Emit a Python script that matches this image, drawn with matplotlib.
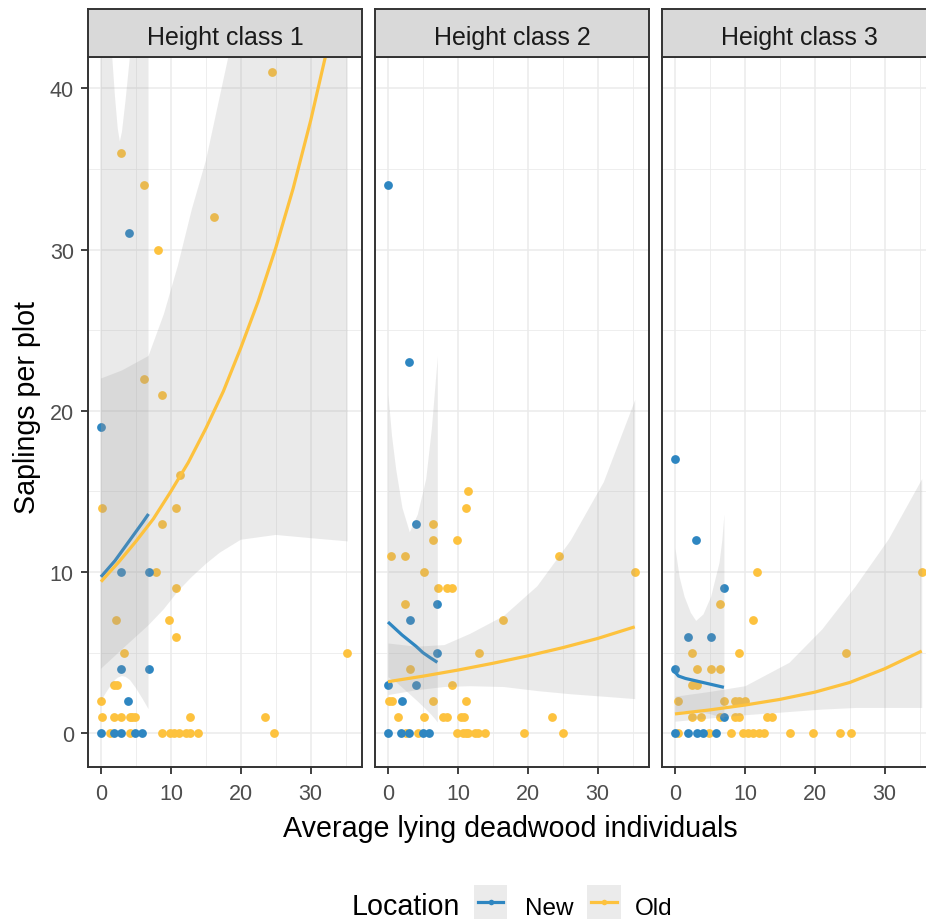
import numpy as np
import matplotlib.pyplot as plt
from matplotlib.patches import Rectangle
from matplotlib.ticker import MultipleLocator

plt.rcParams['font.family'] = ['Liberation Sans', 'DejaVu Sans']

W, H = 926, 920
new_col = '#2E86C1'
old_col = '#FDC23E'

panel_titles = ['Height class 1', 'Height class 2', 'Height class 3']
x_ticks = [0, 10, 20, 30]
y_ticks = [0, 10, 20, 30, 40]

# ---------- Height class 1 ----------
hc1_new_x = [0, 4.0, 2.8, 6.8, 2.8, 6.8, 3.9, 0, 1.9, 2.8, 4.8, 5.9]
hc1_new_y = [19, 31, 10, 10, 4, 4, 2, 0, 0, 0, 0, 0]
hc1_old_x = [24.5, 2.8, 6.2, 8.2, 16.2, 6.2, 8.8, 0.2, 11.3, 10.8, 8.8, 7.9, 10.8,
             2.2, 9.8, 10.8, 3.3, 35.2, 1.9, 2.3, 0,
             0.2, 1.9, 2.8, 4.2, 4.5, 4.8, 12.8, 23.4,
             1.3, 4.2, 8.8, 9.9, 10.5, 11.1, 12.2, 12.8, 13.9, 24.8]
hc1_old_y = [41, 36, 34, 30, 32, 22, 21, 14, 16, 14, 13, 10, 9,
             7, 7, 6, 5, 5, 3, 3, 2,
             1, 1, 1, 1, 1, 1, 1, 1,
             0, 0, 0, 0, 0, 0, 0, 0, 0, 0]
hc1_new_fit_x = [0, 1, 2, 3, 4, 5, 6, 6.8]
hc1_new_fit_y = [9.7, 10.2, 10.7, 11.3, 11.9, 12.5, 13.1, 13.6]
hc1_new_band_x = [0, 0.7, 1.3, 1.6, 2.0, 2.4, 2.7, 3.0, 3.5, 4.15, 5, 6, 6.8]
hc1_new_lo = [2.0, 2.5, 2.9, 3.1, 3.3, 3.45, 3.5, 3.55, 3.5, 3.3, 2.8, 2.1, 1.5]
hc1_new_hi = [70, 55, 46, 42, 39.5, 37.5, 36.7, 37.3, 39.2, 42, 55, 70, 90]
hc1_old_fit_x = [0, 2.5, 5, 7.5, 10, 12.5, 15, 17.5, 20, 22.5, 25, 27.5, 30, 32.5]
hc1_old_fit_y = [9.4, 10.6, 11.9, 13.3, 15.0, 16.8, 18.9, 21.2, 23.9, 26.8, 30.1, 33.8, 38.0, 42.7]
hc1_old_band_x = [0, 3, 6.8, 9, 11, 13, 15, 17, 18.5, 20, 25, 30, 35.3]
hc1_old_lo = [4.0, 5.2, 6.7, 7.7, 8.8, 9.7, 10.5, 11.2, 11.6, 12.0, 12.3, 12.1, 11.9]
hc1_old_hi = [22.0, 22.5, 23.4, 26.0, 29.0, 32.5, 35.5, 39.5, 42.5, 46, 60, 80, 100]

# ---------- Height class 2 ----------
hc2_new_x = [0, 3.07, 3.97, 7.06, 3.1, 7.06, 0, 3.97, 1.96, 0, 1.9, 3.05, 5.0, 5.9]
hc2_new_y = [34, 23, 13, 8, 7, 5, 3, 3, 2, 0, 0, 0, 0, 0]
hc2_old_x = [11.4, 11.1, 6.5, 6.5, 9.9, 0.5, 2.5, 24.5, 5.1, 35.3, 7.1, 8.4, 9.1, 2.5,
             16.5, 13.0, 3.1, 9.1, 0.2, 0.6, 6.5, 11.1,
             1.4, 5.1, 7.9, 8.5, 10.4, 10.9, 23.4,
             2.6, 4.3, 9.9, 10.8, 11.2, 11.5, 12.5, 12.9, 13.9, 19.4, 25.1]
hc2_old_y = [15, 14, 13, 12, 12, 11, 11, 11, 10, 10, 9, 9, 9, 8,
             7, 5, 4, 3, 2, 2, 2, 2,
             1, 1, 1, 1, 1, 1, 1,
             0, 0, 0, 0, 0, 0, 0, 0, 0, 0, 0]
hc2_new_fit_x = [0, 1, 2, 3, 4, 5, 6, 7.06]
hc2_new_fit_y = [6.9, 6.5, 6.1, 5.75, 5.4, 5.0, 4.7, 4.4]
hc2_new_band_x = [0, 0.5, 1.1, 2.0, 3.05, 4.2, 5.4, 6.2, 6.7, 7.06]
hc2_new_lo = [3.5, 3.35, 3.2, 2.85, 2.45, 2.0, 1.5, 1.15, 0.9, 0.7]
hc2_new_hi = [21.0, 18.5, 16.4, 14.0, 12.5, 13.6, 15.8, 18.9, 21.5, 23.4]
hc2_old_fit_x = [0, 5, 10, 15, 20, 25, 30, 35.3]
hc2_old_fit_y = [3.2, 3.54, 3.92, 4.34, 4.80, 5.31, 5.88, 6.6]
hc2_old_band_x = [0, 4, 8, 11.7, 16.5, 21.3, 26.1, 30.8, 35.3]
hc2_old_lo = [2.4, 2.7, 2.9, 2.95, 2.9, 2.65, 2.45, 2.3, 2.15]
hc2_old_hi = [5.6, 5.4, 5.5, 6.2, 7.3, 9.15, 12.0, 15.6, 20.7]

# ---------- Height class 3 ----------
hc3_new_x = [0, 3.05, 7.0, 1.9, 5.1, 0, 7.0, 0, 1.86, 3.1, 4.05, 5.9]
hc3_new_y = [17, 12, 9, 6, 6, 4, 1, 0, 0, 0, 0, 0]
hc3_old_x = [11.7, 35.3, 6.5, 11.1, 2.5, 9.1, 24.5, 3.1, 5.1, 6.5, 2.5, 3.1,
             0.5, 7.0, 8.6, 9.1, 10.0,
             2.5, 3.7, 6.5, 8.6, 9.1, 13.1, 13.9,
             0.5, 4.8, 8.0, 9.8, 10.5, 11.2, 12.0, 12.8, 16.5, 19.7, 23.6, 25.2]
hc3_old_y = [10, 10, 8, 7, 5, 5, 5, 4, 4, 4, 3, 3,
             2, 2, 2, 2, 2,
             1, 1, 1, 1, 1, 1, 1,
             0, 0, 0, 0, 0, 0, 0, 0, 0, 0, 0, 0]
hc3_new_fit_x = [0, 0.5, 1.5, 3, 5, 7]
hc3_new_fit_y = [3.8, 3.55, 3.4, 3.25, 3.05, 2.85]
hc3_new_band_x = [0, 0.6, 1.3, 2.2, 2.96, 4.0, 5.1, 6.3, 6.7, 7.0]
hc3_new_lo = [1.3, 1.35, 1.4, 1.4, 1.35, 1.3, 1.2, 1.05, 0.95, 0.9]
hc3_new_hi = [11.5, 9.7, 8.5, 7.5, 7.0, 7.4, 8.5, 10.6, 12.0, 13.6]
hc3_old_fit_x = [0, 5, 10, 15, 20, 25, 30, 35.3]
hc3_old_fit_y = [1.2, 1.45, 1.75, 2.1, 2.55, 3.15, 4.0, 5.1]
hc3_old_band_x = [0, 5, 10, 16.3, 21, 25.8, 30.5, 35.3]
hc3_old_lo = [0.75, 0.95, 1.15, 1.35, 1.5, 1.6, 1.6, 1.6]
hc3_old_hi = [2.3, 2.6, 2.95, 4.4, 6.47, 9.15, 12.05, 15.8]

panels = [
    (hc1_new_x, hc1_new_y, hc1_old_x, hc1_old_y,
     hc1_new_fit_x, hc1_new_fit_y, hc1_new_band_x, hc1_new_lo, hc1_new_hi,
     hc1_old_fit_x, hc1_old_fit_y, hc1_old_band_x, hc1_old_lo, hc1_old_hi),
    (hc2_new_x, hc2_new_y, hc2_old_x, hc2_old_y,
     hc2_new_fit_x, hc2_new_fit_y, hc2_new_band_x, hc2_new_lo, hc2_new_hi,
     hc2_old_fit_x, hc2_old_fit_y, hc2_old_band_x, hc2_old_lo, hc2_old_hi),
    (hc3_new_x, hc3_new_y, hc3_old_x, hc3_old_y,
     hc3_new_fit_x, hc3_new_fit_y, hc3_new_band_x, hc3_new_lo, hc3_new_hi,
     hc3_old_fit_x, hc3_old_fit_y, hc3_old_band_x, hc3_old_lo, hc3_old_hi),
]


def px_box(left, top, right, bottom):
    return [left / W, 1 - bottom / H, (right - left) / W, (bottom - top) / H]


fig = plt.figure(figsize=(W / 100, H / 100), dpi=100)

# overlay in pixel coordinates for titles and legend
ov = fig.add_axes([0, 0, 1, 1])
ov.set_xlim(0, W)
ov.set_ylim(H, 0)
ov.axis('off')

panel_left = [88.4, 375.4, 662.4]
panel_w = 274
p_top, p_bot = 57.5, 767.5
border = '#333333'

for i, (nx, ny, ox, oy, nfx, nfy, nbx, nlo, nhi,
        ofx, ofy, obx, olo, ohi) in enumerate(panels):
    l = panel_left[i]
    ax = fig.add_axes(px_box(l, p_top, l + panel_w, p_bot))
    ax.set_xlim(-1.8, 37.4)
    ax.set_ylim(-2.06, 41.97)
    ax.set_axisbelow(True)
    ax.xaxis.set_major_locator(plt.FixedLocator(x_ticks))
    ax.yaxis.set_major_locator(plt.FixedLocator(y_ticks))
    ax.xaxis.set_minor_locator(MultipleLocator(5))
    ax.yaxis.set_minor_locator(MultipleLocator(5))
    ax.grid(which='major', color='#EBEBEB', lw=1.1)
    ax.grid(which='minor', color='#EBEBEB', lw=0.6)
    ax.tick_params(which='minor', length=0)
    ax.tick_params(axis='x', which='major', length=5, width=1.3, color=border,
                   labelsize=15.5, labelcolor='#4D4D4D', pad=7)
    ax.tick_params(axis='y', which='major', length=5, width=1.3, color=border,
                   labelsize=15.5, labelcolor='#4D4D4D', pad=5.5)
    if i > 0:
        ax.tick_params(axis='y', which='major', length=0, labelleft=False)
    for s in ax.spines.values():
        s.set_color(border)
        s.set_linewidth(1.4)

    ax.scatter(ox, oy, s=40, color=old_col, linewidths=0, zorder=2)
    ax.scatter(nx, ny, s=40, color=new_col, linewidths=0, zorder=2.1)
    ax.fill_between(nbx, nlo, nhi, color='#999999', alpha=0.2, lw=0, zorder=3)
    ax.plot(nfx, nfy, color=new_col, lw=2.3, zorder=4, solid_capstyle='butt')
    ax.fill_between(obx, olo, ohi, color='#999999', alpha=0.2, lw=0, zorder=5)
    ax.plot(ofx, ofy, color=old_col, lw=2.3, zorder=6, solid_capstyle='butt')

    st = fig.add_axes(px_box(l, 10, l + panel_w, p_top))
    st.set_facecolor('#D9D9D9')
    st.set_xticks([])
    st.set_yticks([])
    for s in st.spines.values():
        s.set_color(border)
        s.set_linewidth(1.4)
    st.text(0.5, 0.263, panel_titles[i], transform=st.transAxes, ha='center',
            va='baseline', fontsize=18, color='#1A1A1A')

# axis titles
ov.text(510.5, 836.7, 'Average lying deadwood individuals', ha='center',
        va='baseline', fontsize=20.6, color='black')
ov.text(35.5, 408, 'Saplings per plot', rotation=90, rotation_mode='anchor',
        ha='center', va='baseline', fontsize=20.6, color='black')

# legend
ov.text(351.7, 915, 'Location', ha='left', va='baseline', fontsize=20.6)
for kx, col, lab, tx in [(474, new_col, 'New', 525), (587.3, old_col, 'Old', 635)]:
    ov.add_patch(Rectangle((kx, 886), 33.4, 34, color='#EBEBEB', lw=0))
    ov.plot([kx + 4, kx + 29.4], [902.5, 902.5], color=col, lw=2.3)
    ov.scatter([kx + 16.7], [902.5], s=16, color=col, linewidths=0)
    ov.text(tx, 915, lab, ha='left', va='baseline', fontsize=17.5)

fig.savefig('out.png', dpi=100)
